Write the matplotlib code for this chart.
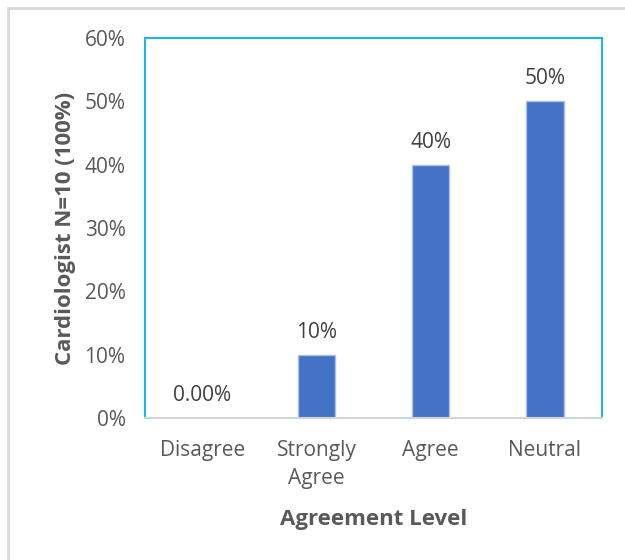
import matplotlib
matplotlib.use('Agg')
import matplotlib.pyplot as plt
from matplotlib.patches import Rectangle
from matplotlib.ticker import FuncFormatter

plt.rcParams['font.family'] = ['Open Sans', 'DejaVu Sans']

categories = ['Disagree', 'Strongly\nAgree', 'Agree', 'Neutral']
shares = [0.0, 10.0, 40.0, 50.0]
bar_labels = ['0.00%', '10%', '40%', '50%']
y_ticks = [0, 10, 20, 30, 40, 50, 60]

text_grey = '#595959'
bar_blue = '#4472C4'
frame_blue = '#1CB4F0'

fig = plt.figure(figsize=(6.25, 5.6), dpi=100)
ax = fig.add_axes([145 / 625, 1 - 418 / 560, 457 / 625, 380 / 560])

# outer chart border
fig.patches.append(Rectangle((8 / 625, -0.01), 1.0, 1 - 8 / 560 + 0.01,
                             transform=fig.transFigure, fill=False,
                             edgecolor='#D9D9D9', linewidth=2.0))

x = range(len(categories))
ax.bar(x, shares, width=0.33, color=bar_blue, edgecolor='#A9C0E8', linewidth=1.0)

for xi, v, lab in zip(x, shares, bar_labels):
    ax.text(xi, v + 1.9, lab, ha='center', va='bottom', fontsize=15, color='#404040')

ax.set_xlim(-0.5, len(categories) - 0.5)
ax.set_ylim(0, 60)
ax.set_yticks(y_ticks)
ax.yaxis.set_major_formatter(FuncFormatter(lambda v, _: f'{v:.0f}%'))
ax.set_xticks(list(x))
ax.set_xticklabels(categories, linespacing=1.4)
ax.tick_params(axis='both', length=0, labelsize=15, colors=text_grey)
ax.tick_params(axis='y', pad=14)
ax.tick_params(axis='x', pad=16)

for side in ['left', 'top', 'right']:
    ax.spines[side].set_color(frame_blue)
    ax.spines[side].set_linewidth(1.5)
ax.spines['bottom'].set_color('#D0D5DA')
ax.spines['bottom'].set_linewidth(1.5)

ax.set_ylabel('Cardiologist N=10 (100%)', fontsize=16, fontweight='bold',
              color=text_grey, labelpad=6)
ax.set_xlabel('Agreement Level', fontsize=16, fontweight='bold',
              color=text_grey, labelpad=15)

fig.savefig('out.png', dpi=100)
